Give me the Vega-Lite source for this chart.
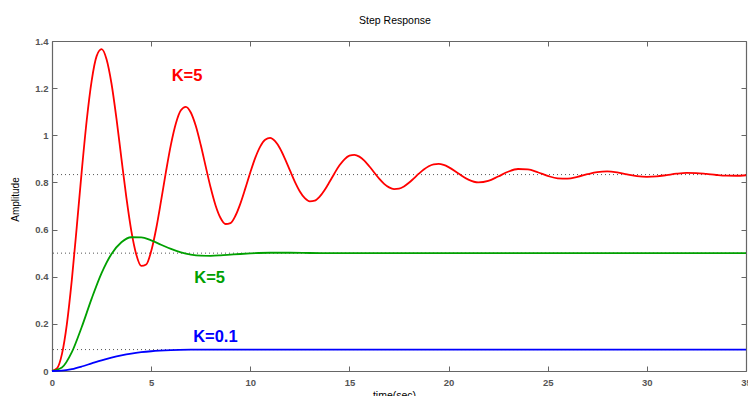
{
  "$schema": "https://vega.github.io/schema/vega-lite/v6.json",
  "width": 694,
  "height": 330,
  "autosize": {"type": "none"},
  "padding": {"left": 52, "top": 41, "right": 2, "bottom": 25},
  "background": "white",
  "title": {"text": "Step Response", "fontSize": 10.5, "fontWeight": "normal", "font": "Liberation Sans", "color": "#000000", "anchor": "middle", "baseline": "alphabetic", "offset": 2, "dx": -4},
  "config": {"view": {"stroke": null}},
  "datasets": {
    "curves": [
      {"K":"5","t":0,"v":0},{"K":"5","t":0.25,"v":0.0108},{"K":"5","t":0.5,"v":0.0716},{"K":"5","t":0.75,"v":0.1993},{"K":"5","t":1,"v":0.3867},{"K":"5","t":1.25,"v":0.6126},{"K":"5","t":1.5,"v":0.8478},{"K":"5","t":1.75,"v":1.0628},{"K":"5","t":2,"v":1.2312},{"K":"5","t":2.25,"v":1.3359},{"K":"5","t":2.5,"v":1.3653},{"K":"5","t":2.75,"v":1.3226},{"K":"5","t":3,"v":1.2196},{"K":"5","t":3.25,"v":1.0714},{"K":"5","t":3.5,"v":0.9025},{"K":"5","t":3.75,"v":0.7362},{"K":"5","t":4,"v":0.5948},{"K":"5","t":4.25,"v":0.4947},{"K":"5","t":4.5,"v":0.4459},{"K":"5","t":4.75,"v":0.4518},{"K":"5","t":5,"v":0.5077},{"K":"5","t":5.25,"v":0.6026},{"K":"5","t":5.5,"v":0.7214},{"K":"5","t":5.75,"v":0.8466},{"K":"5","t":6,"v":0.9613},{"K":"5","t":6.25,"v":1.051},{"K":"5","t":6.5,"v":1.106},{"K":"5","t":6.75,"v":1.1209},{"K":"5","t":7,"v":1.0967},{"K":"5","t":7.25,"v":1.0401},{"K":"5","t":7.5,"v":0.9595},{"K":"5","t":7.75,"v":0.8681},{"K":"5","t":8,"v":0.7784},{"K":"5","t":8.25,"v":0.7025},{"K":"5","t":8.5,"v":0.6491},{"K":"5","t":8.75,"v":0.6236},{"K":"5","t":9,"v":0.6276},{"K":"5","t":9.25,"v":0.6585},{"K":"5","t":9.5,"v":0.7103},{"K":"5","t":9.75,"v":0.7748},{"K":"5","t":10,"v":0.8424},{"K":"5","t":10.25,"v":0.9042},{"K":"5","t":10.5,"v":0.9521},{"K":"5","t":10.75,"v":0.9812},{"K":"5","t":11,"v":0.9887},{"K":"5","t":11.25,"v":0.975},{"K":"5","t":11.5,"v":0.944},{"K":"5","t":11.75,"v":0.9002},{"K":"5","t":12,"v":0.8507},{"K":"5","t":12.25,"v":0.8023},{"K":"5","t":12.5,"v":0.7616},{"K":"5","t":12.75,"v":0.7331},{"K":"5","t":13,"v":0.7198},{"K":"5","t":13.25,"v":0.7224},{"K":"5","t":13.5,"v":0.7395},{"K":"5","t":13.75,"v":0.7678},{"K":"5","t":14,"v":0.8027},{"K":"5","t":14.25,"v":0.8392},{"K":"5","t":14.5,"v":0.8725},{"K":"5","t":14.75,"v":0.8981},{"K":"5","t":15,"v":0.9135},{"K":"5","t":15.25,"v":0.9172},{"K":"5","t":15.5,"v":0.9095},{"K":"5","t":15.75,"v":0.8926},{"K":"5","t":16,"v":0.8687},{"K":"5","t":16.25,"v":0.842},{"K":"5","t":16.5,"v":0.8159},{"K":"5","t":16.75,"v":0.794},{"K":"5","t":17,"v":0.7789},{"K":"5","t":17.25,"v":0.7719},{"K":"5","t":17.5,"v":0.7736},{"K":"5","t":17.75,"v":0.783},{"K":"5","t":18,"v":0.7984},{"K":"5","t":18.25,"v":0.8174},{"K":"5","t":18.5,"v":0.8371},{"K":"5","t":18.75,"v":0.8549},{"K":"5","t":19,"v":0.8687},{"K":"5","t":19.25,"v":0.8768},{"K":"5","t":19.5,"v":0.8786},{"K":"5","t":19.75,"v":0.8743},{"K":"5","t":20,"v":0.865},{"K":"5","t":20.5,"v":0.8376},{"K":"5","t":21,"v":0.8118},{"K":"5","t":21.5,"v":0.8001},{"K":"5","t":22,"v":0.8063},{"K":"5","t":22.5,"v":0.825},{"K":"5","t":23,"v":0.8453},{"K":"5","t":23.5,"v":0.8569},{"K":"5","t":24,"v":0.8554},{"K":"5","t":24.5,"v":0.8432},{"K":"5","t":25,"v":0.8278},{"K":"5","t":25.5,"v":0.8172},{"K":"5","t":26,"v":0.816},{"K":"5","t":26.5,"v":0.8234},{"K":"5","t":27,"v":0.8347},{"K":"5","t":27.5,"v":0.8438},{"K":"5","t":28,"v":0.8465},{"K":"5","t":28.5,"v":0.8424},{"K":"5","t":29,"v":0.8343},{"K":"5","t":29.5,"v":0.8269},{"K":"5","t":30,"v":0.8236},{"K":"5","t":30.5,"v":0.8256},{"K":"5","t":31,"v":0.8311},{"K":"5","t":31.5,"v":0.837},{"K":"5","t":32,"v":0.8403},{"K":"5","t":32.5,"v":0.8397},{"K":"5","t":33,"v":0.8361},{"K":"5","t":33.5,"v":0.8316},{"K":"5","t":34,"v":0.8286},{"K":"5","t":34.5,"v":0.8283},{"K":"5","t":35,"v":0.8305},
      {"K":"1","t":0,"v":0},{"K":"1","t":0.5,"v":0.0144},{"K":"1","t":1,"v":0.0797},{"K":"1","t":1.5,"v":0.1867},{"K":"1","t":2,"v":0.307},{"K":"1","t":2.5,"v":0.4152},{"K":"1","t":3,"v":0.4966},{"K":"1","t":3.5,"v":0.5464},{"K":"1","t":4,"v":0.5675},{"K":"1","t":4.5,"v":0.5673},{"K":"1","t":5,"v":0.5542},{"K":"1","t":5.5,"v":0.5358},{"K":"1","t":6,"v":0.5178},{"K":"1","t":6.5,"v":0.5034},{"K":"1","t":7,"v":0.494},{"K":"1","t":7.5,"v":0.4895},{"K":"1","t":8,"v":0.4888},{"K":"1","t":8.5,"v":0.4905},{"K":"1","t":9,"v":0.4934},{"K":"1","t":9.5,"v":0.4964},{"K":"1","t":10,"v":0.4989},{"K":"1","t":11,"v":0.5016},{"K":"1","t":12,"v":0.5016},{"K":"1","t":13,"v":0.5007},{"K":"1","t":14,"v":0.5},{"K":"1","t":15,"v":0.4998},{"K":"1","t":17,"v":0.5},{"K":"1","t":20,"v":0.5},{"K":"1","t":25,"v":0.5},{"K":"1","t":30,"v":0.5},{"K":"1","t":35,"v":0.5},
      {"K":"0.1","t":0,"v":0},{"K":"0.1","t":0.5,"v":0.0014},{"K":"0.1","t":1,"v":0.0081},{"K":"0.1","t":1.5,"v":0.0191},{"K":"0.1","t":2,"v":0.0322},{"K":"0.1","t":2.5,"v":0.0452},{"K":"0.1","t":3,"v":0.0568},{"K":"0.1","t":3.5,"v":0.0665},{"K":"0.1","t":4,"v":0.0741},{"K":"0.1","t":4.5,"v":0.0797},{"K":"0.1","t":5,"v":0.0838},{"K":"0.1","t":6,"v":0.0884},{"K":"0.1","t":7,"v":0.0903},{"K":"0.1","t":8,"v":0.0909},{"K":"0.1","t":9,"v":0.0911},{"K":"0.1","t":10,"v":0.091},{"K":"0.1","t":12,"v":0.0909},{"K":"0.1","t":15,"v":0.0909},{"K":"0.1","t":20,"v":0.0909},{"K":"0.1","t":25,"v":0.0909},{"K":"0.1","t":30,"v":0.0909},{"K":"0.1","t":35,"v":0.0909}
    ],
    "steady": [{"v": 0.8333}, {"v": 0.5}, {"v": 0.0909}],
    "labels": [
      {"K":"5","t":6.81,"v":1.232,"label":"K=5"},
      {"K":"1","t":7.95,"v":0.372,"label":"K=5"},
      {"K":"0.1","t":8.24,"v":0.124,"label":"K=0.1"}
    ]
  },
  "resolve": {"axis": {"x": "independent", "y": "independent"}},
  "layer": [
    {
      "data": {"name": "steady"},
      "mark": {"type": "rule", "strokeDash": [1, 3], "color": "#555555", "strokeWidth": 1},
      "encoding": {
        "y": {"field": "v", "type": "quantitative", "scale": {"domain": [0, 1.4], "nice": false}, "axis": null}
      }
    },
    {
      "data": {"name": "curves"},
      "mark": {"type": "line", "interpolate": "monotone", "strokeWidth": 1.8},
      "encoding": {
        "x": {"field": "t", "type": "quantitative", "scale": {"domain": [0, 35], "nice": false},
          "axis": {"orient": "bottom", "values": [0,5,10,15,20,25,30,35], "format": "d", "title": "time(sec)", "grid": false,
            "tickSize": -5, "tickColor": "#666666", "domainColor": "#666666", "domainWidth": 1.2, "labelPadding": 11, "labelFlush": false, "labelOverlap": false,
            "labelFont": "Liberation Sans", "labelFontSize": 9.5, "labelFontWeight": "bold", "labelColor": "#555555",
            "titleFont": "Liberation Sans", "titleFontSize": 10.5, "titleFontWeight": "normal", "titleColor": "#000000",
            "titleX": 342, "titleY": 27, "titleBaseline": "alphabetic", "titleAnchor": null}},
        "y": {"field": "v", "type": "quantitative", "scale": {"domain": [0, 1.4], "nice": false},
          "axis": {"orient": "left", "values": [0,0.2,0.4,0.6,0.8,1,1.2,1.4], "format": "~g", "title": "Amplitude", "grid": false,
            "tickSize": -5, "tickColor": "#666666", "domainColor": "#666666", "domainWidth": 1.2, "labelPadding": 9, "labelFlush": false, "labelOverlap": false,
            "labelFont": "Liberation Sans", "labelFontSize": 9.5, "labelFontWeight": "bold", "labelColor": "#555555",
            "titleFont": "Liberation Sans", "titleFontSize": 10, "titleFontWeight": "normal", "titleColor": "#000000",
            "titleX": -37, "titleY": 158, "titleBaseline": "middle", "titleAngle": 270}},
        "color": {"field": "K", "type": "nominal", "scale": {"domain": ["5","1","0.1"], "range": ["#ff0000","#00a000","#0000ff"]}, "legend": null}
      }
    },
    {
      "data": {"name": "labels"},
      "mark": {"type": "text", "font": "Liberation Sans", "fontWeight": "bold", "fontSize": 16.5, "align": "center", "baseline": "alphabetic"},
      "encoding": {
        "x": {"field": "t", "type": "quantitative", "scale": {"domain": [0, 35], "nice": false},
          "axis": {"orient": "top", "values": [0,5,10,15,20,25,30,35], "labels": false, "title": null, "grid": false, "tickSize": -5, "tickColor": "#666666", "domainColor": "#666666", "domainWidth": 1.2}},
        "y": {"field": "v", "type": "quantitative", "scale": {"domain": [0, 1.4], "nice": false},
          "axis": {"orient": "right", "values": [0,0.2,0.4,0.6,0.8,1,1.2,1.4], "labels": false, "title": null, "grid": false, "tickSize": -5, "tickColor": "#666666", "domainColor": "#666666", "domainWidth": 1.2}},
        "text": {"field": "label", "type": "nominal"},
        "color": {"field": "K", "type": "nominal", "scale": {"domain": ["5","1","0.1"], "range": ["#ff0000","#00a000","#0000ff"]}, "legend": null}
      }
    }
  ]
}
